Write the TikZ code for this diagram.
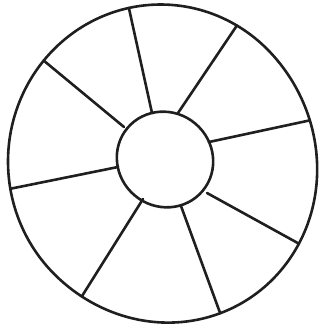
\documentclass[tikz,border=0pt]{standalone}
\begin{document}
\begin{tikzpicture}[x=1pt,y=-1pt,
  ink/.style={draw=black!88,line width=2.6pt,line cap=round,line join=round}]
\useasboundingbox (0,0) rectangle (320,330);
\def\rimx#1{160.6+152.6*cos(#1)*(1+0.05*(max(0,cos(#1-45)))^2)}
\def\rimy#1{161.5+157*sin(#1)*(1+0.05*(max(0,cos(#1-45)))^2)}
% outer rim
\draw[ink] plot[domain=0:360,samples=97,smooth cycle,variable=\t]
  ({\rimx{\t}},{\rimy{\t}});
% hub
\draw[ink] (165,159.5) ellipse [x radius=49, y radius=47, rotate=-40];
% spoke end points
\foreach \k/\ix/\iy/\a in {1/152/113/258, 2/124/127/220, 3/118/167/170,
  4/143/199/121, 5/181/206/68, 6/207/193/30, 7/209/142/345, 8/178/113/300}{
  \coordinate (i\k) at (\ix,\iy);
  \coordinate (o\k) at ({\rimx{\a}},{\rimy{\a}});
}
\foreach \k in {1,...,8} \draw[ink] (i\k) -- (o\k);
\end{tikzpicture}
\end{document}
